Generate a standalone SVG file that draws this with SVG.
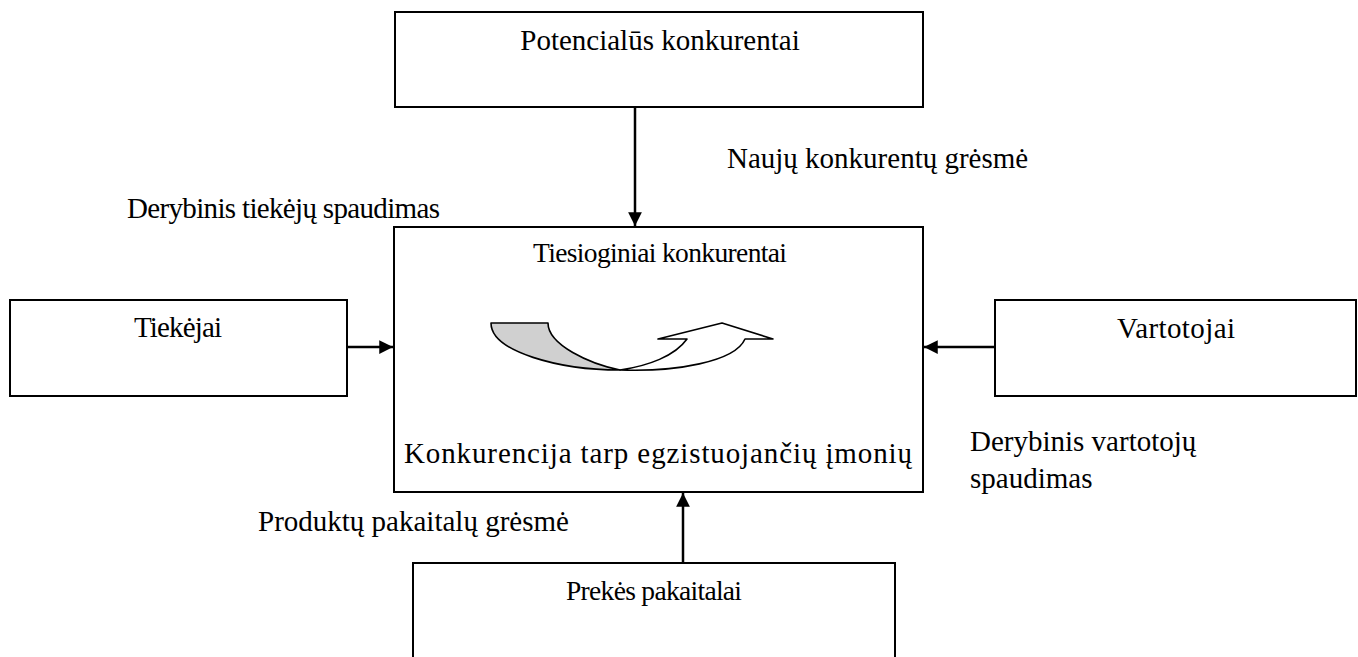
<svg xmlns="http://www.w3.org/2000/svg" width="1358" height="657" viewBox="0 0 1358 657" font-family="'Liberation Serif', 'Times New Roman', 'DejaVu Serif', serif">
  <style>
    .box { fill: #ffffff; stroke: #000000; stroke-width: 2; }
    .lbl { font-family: 'Liberation Serif', 'Times New Roman', 'DejaVu Serif', serif; font-size: 29px; fill: #000000; }
    .sm { font-size: 27.5px; }
    .mid { text-anchor: middle; }
    .conn { stroke: #000000; stroke-width: 2.5; fill: none; marker-end: url(#head); }
    .curve { stroke: #000000; stroke-width: 1.6; stroke-linejoin: round; }
  </style>
  <defs>
    <marker id="head" viewBox="0 0 10 10" refX="10" refY="5" markerWidth="6" markerHeight="5.5" markerUnits="strokeWidth" orient="auto">
      <path d="M0,0 L10,5 L0,10 Z" fill="#000000"/>
    </marker>
  </defs>
  <rect width="1358" height="657" fill="#ffffff"/>

  <g id="potencialus">
    <rect class="box" x="395" y="12" width="528" height="95"/>
    <text class="lbl mid" x="660" y="50">Potencialūs konkurentai</text>
  </g>

  <g id="tiesioginiai">
    <rect class="box" x="394" y="227" width="529" height="265"/>
    <text class="lbl sm mid" x="660" y="262" textLength="254" lengthAdjust="spacing">Tiesioginiai konkurentai</text>
    <text class="lbl mid" x="658" y="463" textLength="508" lengthAdjust="spacing">Konkurencija tarp egzistuojančių įmonių</text>
    <path class="curve" fill="#d0d0d0" d="M491,323 L548,323 C548,345 590,364 620,370 C560,370 491,352 491,323 Z"/>
    <path class="curve" fill="#ffffff" d="M620,370 C675,372 735,362 745,339 L773,339 L722,323 L658,339 L687,339 C675,356 648,366 620,370 Z"/>
  </g>

  <g id="tiekejai">
    <rect class="box" x="10" y="300" width="337" height="96"/>
    <text class="lbl mid" x="178" y="337" textLength="88" lengthAdjust="spacing">Tiekėjai</text>
  </g>

  <g id="vartotojai">
    <rect class="box" x="995" y="300" width="361" height="96"/>
    <text class="lbl mid" x="1176" y="338" textLength="118" lengthAdjust="spacing">Vartotojai</text>
  </g>

  <g id="pakaitalai">
    <rect class="box" x="413" y="563" width="482" height="110"/>
    <text class="lbl sm mid" x="654" y="600" textLength="176" lengthAdjust="spacing">Prekės pakaitalai</text>
  </g>

  <g id="connectors">
    <line class="conn" x1="635" y1="107" x2="635" y2="226"/>
    <line class="conn" x1="347" y1="347" x2="393" y2="347"/>
    <line class="conn" x1="995" y1="347" x2="924" y2="347"/>
    <line class="conn" x1="683" y1="563" x2="683" y2="493"/>
    <text class="lbl" x="727" y="168">Naujų konkurentų grėsmė</text>
    <text class="lbl" x="127" y="218" textLength="313" lengthAdjust="spacing">Derybinis tiekėjų spaudimas</text>
    <text class="lbl" x="970" y="451">Derybinis vartotojų</text>
    <text class="lbl" x="970" y="488">spaudimas</text>
    <text class="lbl" x="258" y="531">Produktų pakaitalų grėsmė</text>
  </g>
</svg>
